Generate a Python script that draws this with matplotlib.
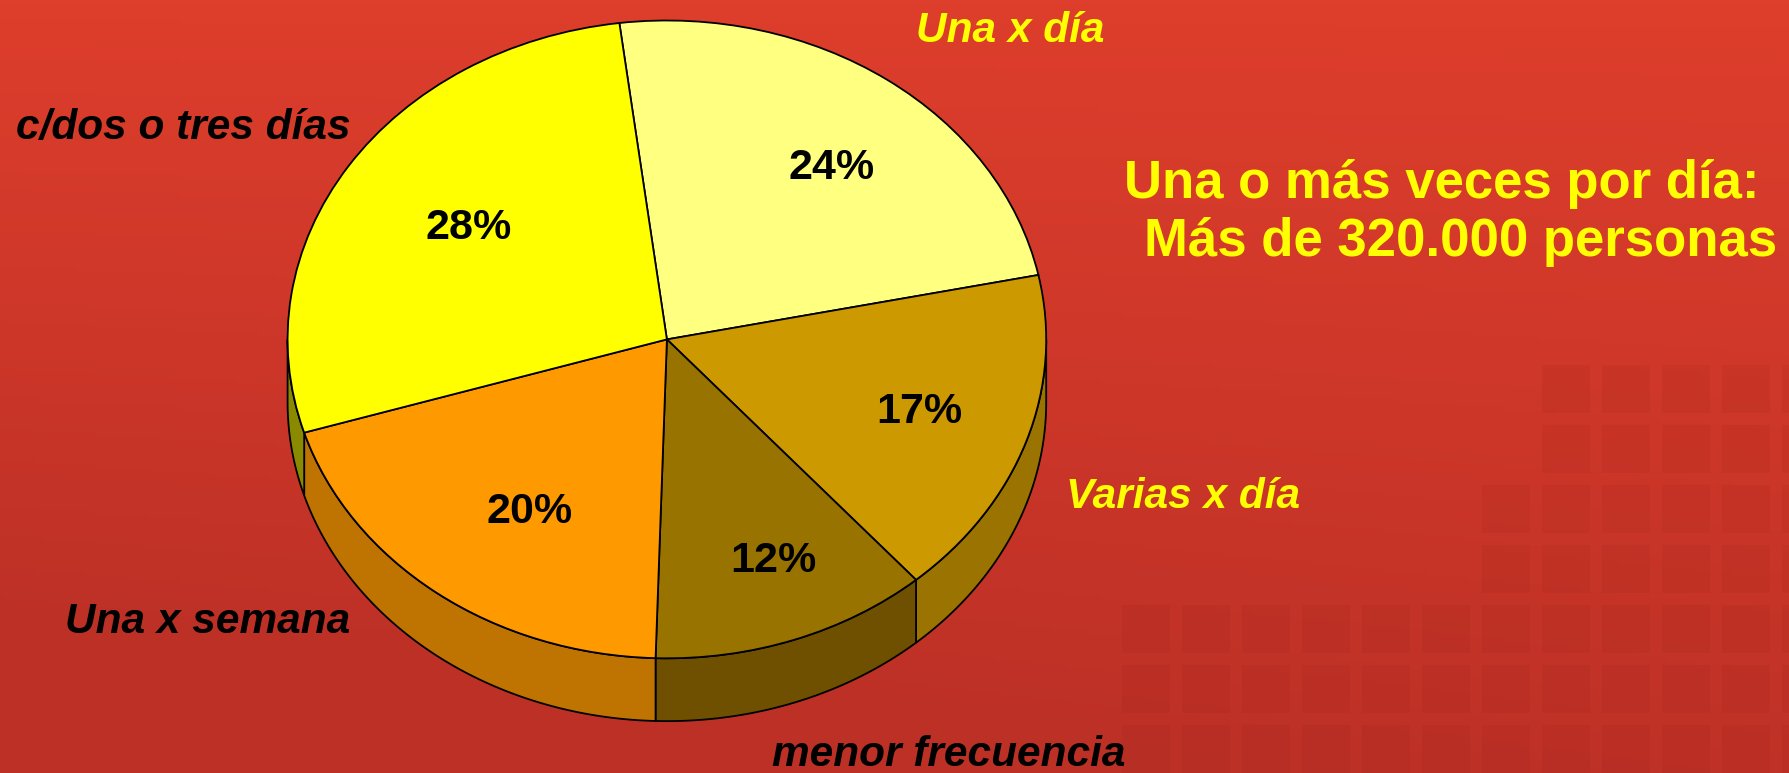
import numpy as np
import matplotlib.pyplot as plt
from matplotlib.patches import Polygon, Rectangle
from matplotlib.transforms import ScaledTranslation

# data
labels = ['Una x día', 'Varias x día', 'menor frecuencia', 'Una x semana', 'c/dos o tres días']
values = [24, 17, 12, 20, 28]
top_colors = ['#FFFF80', '#CC9900', '#997300', '#FF9900', '#FFFF00']
side_colors = ['#CCCC66', '#9A7300', '#6E5000', '#BF7300', '#8A8A00']
label_colors = ['#FFFF00', '#FFFF00', '#000000', '#000000', '#000000']
# label centres in pixels of the 1789x773 picture
label_pos = [(1010, 31), (1183, 497), (949, 755), (208, 622), (183, 128)]
# distance of the percent labels from the centre, in radii
pct_dist = [0.68, 0.66, 0.72, 0.66, 0.67]
title_lines = ['Una o más veces por día:', 'Más de 320.000 personas']

W, H = 1789, 773
fig = plt.figure(figsize=(W / 100, H / 100), dpi=100)

# background: red gradient with faint tiles
bg = fig.add_axes([0, 0, 1, 1])
yy, xx = np.mgrid[0:1:200j, 0:1:400j]
top = np.array([222, 62, 44]) / 255
bot = np.array([188, 48, 38]) / 255
t = np.clip(yy * 0.9 + (1 - xx) * yy * 0.3, 0, 1)[..., None]
img = top * (1 - t) + bot * t
bg.imshow(img, extent=[0, W, H, 0], aspect='auto')
bg.set_xlim(0, W)
bg.set_ylim(H, 0)
for row in range(7):
    y0 = 365 + row * 60
    if row < 2:
        x_start = 1542
    elif row < 4:
        x_start = 1482
    else:
        x_start = 1122
    x = x_start
    while x < W:
        bg.add_patch(Rectangle((x, y0), 48, 48, color='#8a1a10', alpha=0.09, lw=0))
        x += 60
bg.axis('off')

ax = fig.add_axes([0, 0, 1, 1])
ax.patch.set_alpha(0)

total = sum(values)
wedges, texts, autotexts = ax.pie(
    values, colors=top_colors, startangle=97.2, counterclock=False,
    wedgeprops=dict(edgecolor='black', linewidth=1.3),
    autopct=lambda p: f'{p * total / 100:.0f}%', pctdistance=0.68,
    textprops=dict(family='Liberation Sans', fontweight='bold', fontsize=31, color='black'))
for w in wedges:
    w.set_zorder(3)

# the percent labels sit a little right of and below the usual spot
shift = ScaledTranslation(0.15, -0.05, fig.dpi_scale_trans)
for w, a, r in zip(wedges, autotexts, pct_dist):
    mid = np.radians((w.theta1 + w.theta2) / 2)
    a.set_position((r * np.cos(mid), r * np.sin(mid)))
    a.set_transform(ax.transData + shift)
    a.set_zorder(5)

# depth of the 3D side wall, in pie radii
d = 0.197
for w, c in zip(wedges, side_colors):
    t1, t2 = w.theta1, w.theta2
    for k in range(-2, 3):
        a = max(t1, 180 + 360 * k)
        b = min(t2, 360 + 360 * k)
        if b <= a:
            continue
        ts = np.radians(np.linspace(a, b, 80))
        up = np.column_stack([np.cos(ts), np.sin(ts)])
        dn = np.column_stack([np.cos(ts), np.sin(ts) - d])[::-1]
        ax.add_patch(Polygon(np.vstack([up, dn]), closed=True, facecolor=c,
                             edgecolor='black', linewidth=1.3, zorder=2))

cx, cy, rx, ry = 666.9, 339.4, 379.3, 318.9
ax.set_aspect('auto')
ax.set_xlim(-cx / rx, (W - cx) / rx)
ax.set_ylim(-(H - cy) / ry, cy / ry)
ax.axis('off')

for lab, col, (px, py) in zip(labels, label_colors, label_pos):
    fig.text(px / W, 1 - py / H, lab, ha='center', va='center', color=col,
             family='Liberation Sans', fontweight='bold', fontstyle='italic', fontsize=30.5)

fig.text(1124 / W, 1 - 184 / H, title_lines[0], ha='left', va='center', color='#FFFF00',
         family='Liberation Sans', fontweight='bold', fontsize=38)
fig.text(1144 / W, 1 - 242 / H, title_lines[1], ha='left', va='center', color='#FFFF00',
         family='Liberation Sans', fontweight='bold', fontsize=38)

fig.savefig('out.png', dpi=100)
